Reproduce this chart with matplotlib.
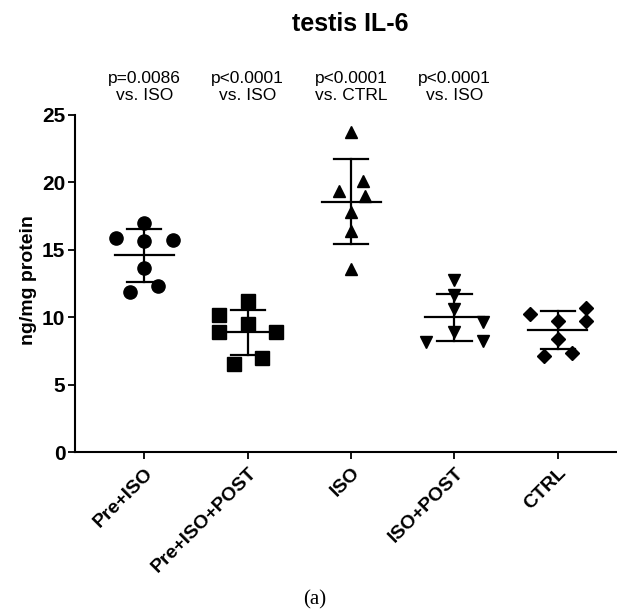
import matplotlib
matplotlib.use("Agg")
import matplotlib.pyplot as plt
import numpy as np

plt.rcParams['font.family'] = ['Liberation Sans', 'DejaVu Sans']

groups = ["Pre+ISO", "Pre+ISO+POST", "ISO", "ISO+POST", "CTRL"]
markers = ["o", "s", "^", "v", "D"]

pre_iso = [16.97, 15.86, 15.66, 15.73, 13.68, 12.35, 11.86]
pre_iso_off = [0.0, -0.274, 0.0, 0.274, 0.0, 0.137, -0.137]

pre_iso_post = [11.21, 10.17, 9.50, 8.88, 8.88, 7.00, 6.51]
pre_iso_post_off = [0.0, -0.274, 0.0, -0.274, 0.274, 0.137, -0.137]

iso = [23.73, 20.11, 19.37, 19.02, 17.79, 16.43, 13.58]
iso_off = [0.0, 0.12, -0.12, 0.13, 0.0, 0.0, 0.0]

iso_post = [12.76, 11.65, 10.61, 9.67, 8.88, 8.19, 8.26]
iso_post_off = [0.0, 0.0, 0.0, 0.274, 0.0, -0.274, 0.274]

ctrl = [10.66, 10.24, 9.74, 9.74, 8.38, 7.14, 7.32]
ctrl_off = [0.274, -0.274, 0.274, 0.0, 0.0, -0.13, 0.135]

values = [pre_iso, pre_iso_post, iso, iso_post, ctrl]
offsets = [pre_iso_off, pre_iso_post_off, iso_off, iso_post_off, ctrl_off]

pvals = ["p=0.0086\nvs. ISO", "p<0.0001\nvs. ISO", "p<0.0001\nvs. CTRL", "p<0.0001\nvs. ISO"]

yticks = [0, 5, 10, 15, 20, 25]

fig = plt.figure(figsize=(6.17, 6.10), dpi=100)
ax = fig.add_axes([75/617, 1-452/610, 1-75/617, (452-115)/610])

for i, (vals, offs, m) in enumerate(zip(values, offsets, markers)):
    xc = i + 1
    xs = xc + np.array(offs)
    ms = 9.5 if m in ("o", "s") else 9.0
    if m == "D":
        ms = 7.0
    ax.plot(xs, vals, linestyle="none", marker=m, color="black", markersize=ms, zorder=3)
    mean = np.mean(vals)
    sd = np.std(vals, ddof=1)
    ax.plot([xc - 0.285, xc + 0.285], [mean, mean], color="black", lw=1.6, zorder=2)
    ax.plot([xc, xc], [mean - sd, mean + sd], color="black", lw=1.6, zorder=2)
    for yv in (mean - sd, mean + sd):
        ax.plot([xc - 0.165, xc + 0.165], [yv, yv], color="black", lw=1.6, zorder=2)

ax.set_xlim(0.33, 5.572)
ax.set_ylim(0, 25)
ax.set_yticks(yticks)
ax.set_yticklabels([str(t) for t in yticks], fontsize=15, fontweight="bold")
ax.set_xticks(range(1, len(groups) + 1))
ax.set_xticklabels(groups, fontsize=14, fontweight="bold", rotation=45,
                   ha="right", va="top", rotation_mode="anchor")
ax.set_ylabel("ng/mg protein", fontsize=14, fontweight="bold")
ax.yaxis.set_label_coords((37 - 75) / 542, (452 - 280) / 337)

for s in ("top", "right"):
    ax.spines[s].set_visible(False)
for s in ("left", "bottom"):
    ax.spines[s].set_linewidth(1.5)
ax.tick_params(axis="both", direction="out", width=1.3, length=5, color="black")
ax.tick_params(axis="x", pad=4)
ax.tick_params(axis="y", pad=2)

for i, txt in enumerate(pvals):
    ax.text(i + 1, 27.1, txt, ha="center", va="center", fontsize=12.5,
            linespacing=1.15, clip_on=False)

fig.text(350/617, 1-24/610, "testis IL-6", ha="center", va="center",
         fontsize=18, fontweight="bold")
fig.text(315/617, 1-600/610, "(a)", ha="center", va="center",
         fontsize=15, family=["Liberation Serif", "DejaVu Serif"])

fig.savefig("out.png", dpi=100)
